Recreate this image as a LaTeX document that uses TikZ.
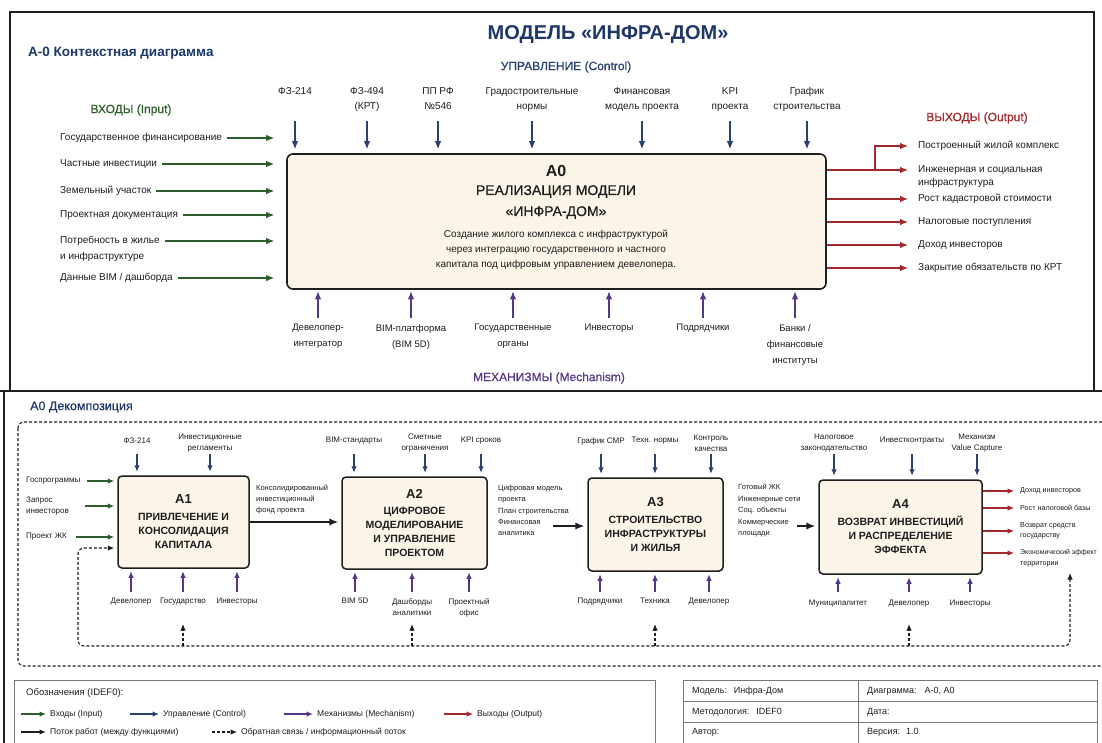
\documentclass[tikz,border=0pt]{standalone}
\usepackage{fontspec}
\setmainfont{Liberation Sans}
\newfontfamily\medfont{Liberation Sans}[FakeBold=0.6]
\usetikzlibrary{arrows.meta}
\definecolor{navy}{RGB}{30,55,105}
\definecolor{cin}{RGB}{45,95,45}
\definecolor{cctl}{RGB}{40,65,110}
\definecolor{cmech}{RGB}{85,55,135}
\definecolor{cout}{RGB}{165,40,45}
\definecolor{boxfill}{RGB}{251,244,232}
\definecolor{ink}{RGB}{30,30,30}
\begin{document}
\begin{tikzpicture}[x=1pt,y=-1pt,
  tipL/.style={-{Latex[length=8pt,width=6.5pt]}},
  tipS/.style={-{Latex[length=6.5pt,width=5.5pt]}},
  inA/.style={tipL, draw=cin, line width=1.2pt},
  ctA/.style={tipL, draw=cctl, line width=1.2pt},
  meA/.style={tipL, draw=cmech, line width=1.2pt},
  ouA/.style={tipL, draw=cout, line width=1.2pt},
  dinA/.style={tipS, draw=cin, line width=1.1pt},
  dctA/.style={tipS, draw=cctl, line width=1.1pt},
  dmeA/.style={tipS, draw=cmech, line width=1.1pt},
  douA/.style={tipS, draw=cout, line width=1.1pt},
  flowA/.style={-{Latex[length=9pt,width=7.5pt]}, draw=ink, line width=1.5pt},
  fbA/.style={draw=ink, line width=1.1pt, dash pattern=on 3pt off 2pt},
  fbtip/.style={-{Latex[length=6.5pt,width=5.5pt]}},
  lbl/.style={inner sep=0pt, text=ink, font=\fontsize{10}{15}\selectfont},
  mlb/.style={inner sep=0pt, text=ink, align=center, anchor=north, font=\fontsize{9.5}{16}\selectfont},
  dlb/.style={inner sep=0pt, text=ink, align=center, font=\fontsize{8}{11}\selectfont},
  olb/.style={inner sep=0pt, text=ink, anchor=west, font=\fontsize{7.2}{10.5}\selectfont},
  head/.style={font=\medfont\fontsize{12}{14}\selectfont},
  dbox/.style={draw=ink, line width=1.5pt, fill=boxfill, rounded corners=4pt, inner sep=0pt, align=center, text=ink, font=\bfseries\fontsize{10.5}{14}\selectfont},
  legt/.style={inner sep=0pt, anchor=west, text=ink, font=\fontsize{8.5}{10}\selectfont},
  tabt/.style={inner sep=0pt, anchor=west, text=ink, font=\fontsize{9}{10}\selectfont}
]
\useasboundingbox (0,0) rectangle (1102,742);
\fill[white] (0,0) rectangle (1102,742);

% frames
\draw[ink, line width=1.5pt] (10,12) rectangle (1094,391);
\draw[ink, line width=1.5pt] (0,391) -- (1102,391);
\draw[ink, line width=1.5pt] (4,391) -- (4,745);

% ---------- A-0 context ----------
\node[font=\bfseries\fontsize{20}{24}\selectfont, text=navy] (title) at (608,35) {МОДЕЛЬ «ИНФРА-ДОМ»};
\node[anchor=west, font=\bfseries\fontsize{13.5}{16}\selectfont, text=navy, inner sep=0pt] (ctx) at (28,53) {A-0 Контекстная диаграмма};
\node[head, text=cctl] (hctl) at (566,67) {УПРАВЛЕНИЕ (Control)};
\node[head, text=cin] (hin) at (131,110) {ВХОДЫ (Input)};
\node[head, text=cout] (hout) at (977,118) {ВЫХОДЫ (Output)};
\node[head, text=cmech] (hmech) at (549,378) {МЕХАНИЗМЫ (Mechanism)};

\node[draw=ink, line width=1.6pt, fill=boxfill, rounded corners=6pt, minimum width=539pt, minimum height=135pt, inner sep=0pt] (A0) at (556.5,221.5) {};
\node[font=\bfseries\fontsize{16}{18}\selectfont, text=ink] (a0id) at (556,171) {A0};
\node[font=\medfont\fontsize{14}{21}\selectfont, text=ink, align=center] (a0nm) at (556,202) {РЕАЛИЗАЦИЯ МОДЕЛИ\\«ИНФРА-ДОМ»};
\node[font=\fontsize{10}{15}\selectfont, text=ink, align=center] (a0ds) at (556,250) {Создание жилого комплекса с инфраструктурой\\через интеграцию государственного и частного\\капитала под цифровым управлением девелопера.};

% inputs
\node[lbl, anchor=west] (i1) at (60,138) {Государственное финансирование};
\node[lbl, anchor=west] (i2) at (60,164) {Частные инвестиции};
\node[lbl, anchor=west] (i3) at (60,191) {Земельный участок};
\node[lbl, anchor=west] (i4) at (60,215) {Проектная документация};
\node[lbl, anchor=west] (i5) at (60,241) {Потребность в жилье};
\node[lbl, anchor=west] (i5b) at (60,257) {и инфраструктуре};
\node[lbl, anchor=west] (i6) at (60,278) {Данные BIM / дашборда};
\foreach \i in {i1,i2,i3,i4,i5,i6}
  \draw[inA, shorten <=5pt, shorten >=12pt] (\i.east) -- (\i.east -| A0.west);

% controls
\coordinate (ctop) at (0,121);
\node[lbl, align=center, anchor=north] (c1) at (295,87) {ФЗ-214};
\node[lbl, align=center, anchor=north] (c2) at (367,87) {ФЗ-494\\(КРТ)};
\node[lbl, align=center, anchor=north] (c3) at (438,87) {ПП РФ\\№546};
\node[lbl, align=center, anchor=north] (c4) at (532,87) {Градостроительные\\нормы};
\node[lbl, align=center, anchor=north] (c5) at (642,87) {Финансовая\\модель проекта};
\node[lbl, align=center, anchor=north] (c6) at (730,87) {KPI\\проекта};
\node[lbl, align=center, anchor=north] (c7) at (807,87) {График\\строительства};
\foreach \c in {c1,c2,c3,c4,c5,c6,c7}
  \draw[ctA, shorten >=4pt] (\c.south |- ctop) -- (\c.south |- A0.north);

% mechanisms
\coordinate (mbot) at (0,318);
\node[mlb] (m1) at (318,324) {Девелопер-\\интегратор};
\node[mlb] (m2) at (411,324) {BIM-платформа\\(BIM 5D)};
\node[mlb] (m3) at (513,324) {Государственные\\органы};
\node[mlb] (m4) at (609,324) {Инвесторы};
\node[mlb] (m5) at (703,324) {Подрядчики};
\node[mlb] (m6) at (795,324) {Банки /\\финансовые\\институты};
\foreach \m in {m1,m2,m3,m4,m5,m6}
  \draw[meA, shorten >=1.5pt] (\m.north |- mbot) -- (\m.north |- A0.south);

% outputs
\node[lbl, anchor=west] (o1) at (918,146) {Построенный жилой комплекс};
\node[lbl, anchor=west] (o2) at (918,170) {Инженерная и социальная};
\node[lbl, anchor=west] (o2b) at (918,183) {инфраструктура};
\node[lbl, anchor=west] (o3) at (918,199) {Рост кадастровой стоимости};
\node[lbl, anchor=west] (o4) at (918,222) {Налоговые поступления};
\node[lbl, anchor=west] (o5) at (918,245) {Доход инвесторов};
\node[lbl, anchor=west] (o6) at (918,268) {Закрытие обязательств по КРТ};
\foreach \o in {o2,o3,o4,o5,o6}
  \draw[ouA, shorten >=10pt] (A0.east |- \o.west) -- (\o.west);
\coordinate (obr) at (875,170);
\draw[ouA, shorten >=10pt] (obr) |- (o1.west);

% ---------- A0 decomposition ----------
\node[anchor=west, inner sep=0pt, font=\medfont\fontsize{12.5}{14}\selectfont, text=navy] (dec) at (30,407) {A0 Декомпозиция};
\draw[fbA, rounded corners=6pt] (18,422) rectangle (1108,666);

\node[dbox, minimum width=131pt, minimum height=92pt] (A1) at (183.5,522) {{\fontsize{13}{14}\selectfont A1}\\[3pt]ПРИВЛЕЧЕНИЕ И\\КОНСОЛИДАЦИЯ\\КАПИТАЛА};
\node[dbox, minimum width=145pt, minimum height=92pt] (A2) at (414.5,523) {{\fontsize{13}{14}\selectfont A2}\\[2pt]ЦИФРОВОЕ\\МОДЕЛИРОВАНИЕ\\И УПРАВЛЕНИЕ\\ПРОЕКТОМ};
\node[dbox, minimum width=135pt, minimum height=93pt] (A3) at (655.5,524.5) {{\fontsize{13}{14}\selectfont A3}\\[3pt]СТРОИТЕЛЬСТВО\\ИНФРАСТРУКТУРЫ\\И ЖИЛЬЯ};
\node[dbox, minimum width=163pt, minimum height=94pt] (A4) at (900.5,527) {{\fontsize{13}{14}\selectfont A4}\\[3pt]ВОЗВРАТ ИНВЕСТИЦИЙ\\И РАСПРЕДЕЛЕНИЕ\\ЭФФЕКТА};

% decomposition controls
\coordinate (dct) at (0,454);
\node[dlb] (k11) at (137,441) {ФЗ-214};
\node[dlb] (k12) at (210,443) {Инвестиционные\\регламенты};
\node[dlb] (k21) at (354,441) {BIM-стандарты};
\node[dlb] (k22) at (425,443) {Сметные\\ограничения};
\node[dlb] (k23) at (481,441) {KPI сроков};
\node[dlb] (k31) at (601,441) {График СМР};
\node[dlb] (k32) at (655,441) {Техн. нормы};
\node[dlb] (k33) at (711,443) {Контроль\\качества};
\node[dlb] (k41) at (834,443) {Налоговое\\законодательство};
\node[dlb] (k42) at (912,441) {Инвестконтракты};
\node[dlb] (k43) at (977,443) {Механизм\\Value Capture};
\foreach \k/\b in {k11/A1,k12/A1,k21/A2,k22/A2,k23/A2,k31/A3,k32/A3,k33/A3,k41/A4,k42/A4,k43/A4}
  \draw[dctA, shorten >=3.5pt] (\k.south |- dct) -- (\k.south |- \b.north);

% decomposition mechanisms
\coordinate (dmb) at (0,592);
\node[dlb, anchor=north] (n11) at (131,598) {Девелопер};
\node[dlb, anchor=north] (n12) at (183,598) {Государство};
\node[dlb, anchor=north] (n13) at (237,598) {Инвесторы};
\node[dlb, anchor=north] (n21) at (355,598) {BIM 5D};
\node[dlb, anchor=north] (n22) at (412,598) {Дашборды\\аналитики};
\node[dlb, anchor=north] (n23) at (469,598) {Проектный\\офис};
\node[dlb, anchor=north] (n31) at (600,598) {Подрядчики};
\node[dlb, anchor=north] (n32) at (655,598) {Техника};
\node[dlb, anchor=north] (n33) at (709,598) {Девелопер};
\node[dlb, anchor=north] (n41) at (838,600) {Муниципалитет};
\node[dlb, anchor=north] (n42) at (909,600) {Девелопер};
\node[dlb, anchor=north] (n43) at (970,600) {Инвесторы};
\foreach \n/\b in {n11/A1,n12/A1,n13/A1,n21/A2,n22/A2,n23/A2,n31/A3,n32/A3,n33/A3,n41/A4,n42/A4,n43/A4}
  \draw[dmeA, shorten >=2.5pt] (\n.north |- dmb) -- (\n.north |- \b.south);

% A1 inputs
\node[dlb, anchor=west] (g1) at (26,481) {Госпрограммы};
\node[dlb, anchor=west, align=left] (g2) at (26,506) {Запрос\\инвесторов};
\node[dlb, anchor=west] (g3) at (26,537) {Проект ЖК};
\draw[dinA, shorten <=7pt, shorten >=3pt] (g1.east) -- (g1.east -| A1.west);
\draw[dinA, shorten <=16pt, shorten >=3pt] (g2.east) -- (g2.east -| A1.west);
\draw[dinA, shorten <=9pt, shorten >=3pt] (g3.east) -- (g3.east -| A1.west);

% flows between functions
\node[dlb, anchor=north west, align=left, font=\fontsize{7.5}{11}\selectfont] (t1) at (256,485) {Консолидированный\\инвестиционный\\фонд проекта};
\draw[flowA, shorten >=3pt] (A1.east) -- (A1.east -| A2.west);
\node[dlb, anchor=north west, align=left, font=\fontsize{7.5}{11.3}\selectfont] (t2) at (498,485) {Цифровая модель\\проекта\\План строительства\\Финансовая\\аналитика};
\coordinate (s23) at (553,526);
\draw[flowA, shorten >=3pt] (s23) -- (s23 -| A3.west);
\node[dlb, anchor=north west, align=left, font=\fontsize{7.5}{11.5}\selectfont] (t3) at (738,484) {Готовый ЖК\\Инженерные сети\\Соц. объекты\\Коммерческие\\площади};
\coordinate (s34) at (797,526);
\draw[flowA, shorten >=3pt] (s34) -- (s34 -| A4.west);

% A4 outputs
\node[olb] (p1) at (1020,491) {Доход инвесторов};
\node[olb] (p2) at (1020,508) {Рост налоговой базы};
\node[olb, align=left] (p3) at (1020,531) {Возврат средств\\государству};
\node[olb, font=\fontsize{6.9}{10}\selectfont] (p4) at (1020,553) {Экономический эффект};
\node[olb] (p4b) at (1020,564) {территории};
\foreach \p in {p1,p2,p3,p4}
  \draw[douA, shorten >=6pt] (A4.east |- \p.west) -- (\p.west);

% feedback / information loop
\coordinate (fbT) at (1070,573);
\coordinate (fbBR) at (1070,646);
\coordinate (fbBL) at (78,646);
\coordinate (fbTL) at (78,548);
\coordinate (fbtipy) at (0,624);
\draw[fbA, {Latex[length=6.5pt,width=5.5pt]}-{Latex[length=6.5pt,width=5.5pt]}, shorten >=3pt, rounded corners=6pt] (fbT) -- (fbBR) -- (fbBL) -- (fbTL) -- (fbTL -| A1.west);
\foreach \n in {n12,n22,n32,n42}
  \draw[fbA, fbtip] (\n.north |- fbBL) -- (\n.north |- fbtipy);

% ---------- legend ----------
\draw[ink!60, line width=0.8pt] (14,680) rectangle (655,750);
\node[inner sep=0pt, anchor=west, text=ink, font=\fontsize{9.5}{11}\selectfont] (lgt) at (26,693) {Обозначения (IDEF0):};
\node[legt] (l1) at (50,714) {Входы (Input)};
\node[legt] (l2) at (163,714) {Управление (Control)};
\node[legt] (l3) at (317,714) {Механизмы (Mechanism)};
\node[legt] (l4) at (477,714) {Выходы (Output)};
\node[legt] (l5) at (50,732) {Поток работ (между функциями)};
\node[legt] (l6) at (241,732) {Обратная связь / информационный поток};
\draw[dinA, shorten >=4pt] (l1.west) ++(-29,0) -- (l1.west);
\draw[dctA, shorten >=4pt] (l2.west) ++(-33,0) -- (l2.west);
\draw[dmeA, shorten >=4pt] (l3.west) ++(-33,0) -- (l3.west);
\draw[douA, shorten >=4pt] (l4.west) ++(-33,0) -- (l4.west);
\draw[tipS, draw=ink, line width=1.3pt, shorten >=4pt] (l5.west) ++(-29,0) -- (l5.west);
\draw[fbA, fbtip, shorten >=4pt] (l6.west) ++(-29,0) -- (l6.west);

% ---------- title block ----------
\draw[ink!60, line width=0.8pt] (683,680) rectangle (1097,750);
\draw[ink!60, line width=0.8pt] (683,701) -- (1097,701);
\draw[ink!60, line width=0.8pt] (683,722) -- (1097,722);
\draw[ink!60, line width=0.8pt] (858,680) -- (858,750);
\node[tabt] (tb1) at (692,691) {Модель:\hspace{7pt}Инфра-Дом};
\node[tabt] (tb2) at (692,712) {Методология:\hspace{7pt}IDEF0};
\node[tabt] (tb3) at (692,732) {Автор:};
\node[tabt] (tb4) at (867,691) {Диаграмма:\hspace{8pt}A-0, A0};
\node[tabt] (tb5) at (867,712) {Дата:};
\node[tabt] (tb6) at (867,732) {Версия:\hspace{6pt}1.0};
\end{tikzpicture}
\end{document}
